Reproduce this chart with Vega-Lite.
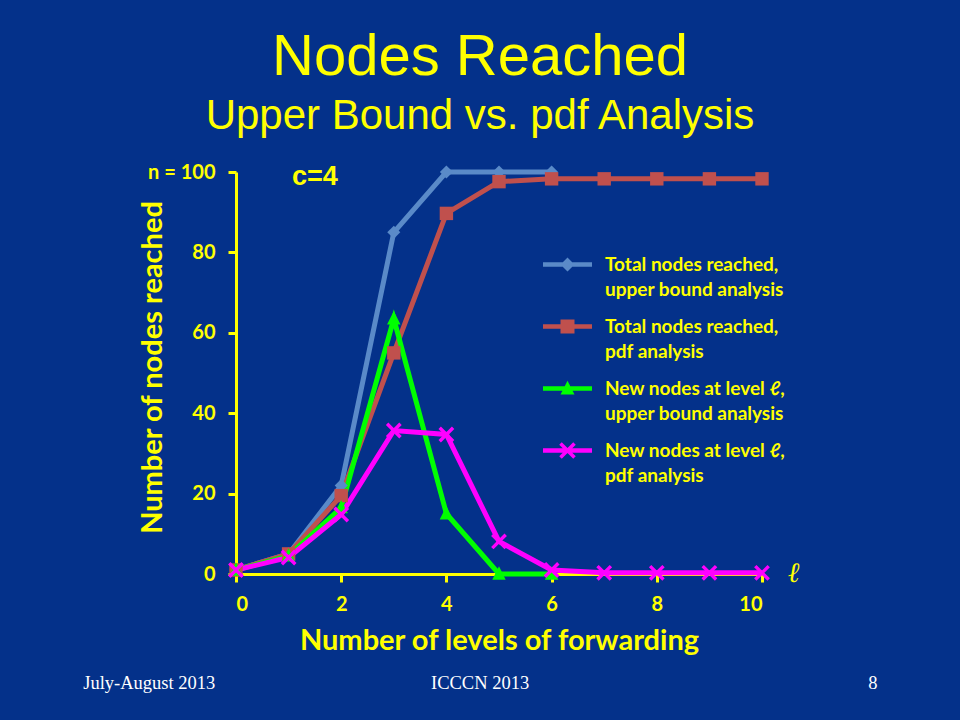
{
  "$schema": "https://vega.github.io/schema/vega-lite/v6.json",
  "width": 526,
  "height": 402,
  "autosize": {"type": "none"},
  "padding": {"left": 236, "top": 172, "right": 198, "bottom": 146},
  "background": "#04318a",
  "config": {"view": {"stroke": null}},
  "title": {
    "text": "Nodes Reached",
    "subtitle": "Upper Bound vs. pdf Analysis",
    "anchor": "middle",
    "dx": -19,
    "font": "Liberation Sans",
    "fontSize": 58,
    "fontWeight": "normal",
    "color": "#FFFF00",
    "subtitleFont": "Liberation Sans",
    "subtitleFontSize": 42,
    "subtitleColor": "#FFFF00",
    "subtitlePadding": 9,
    "offset": 25
  },
  "datasets": {
    "series": [
      {"level": 0, "series": "ub_total", "nodes": 1},
      {"level": 1, "series": "ub_total", "nodes": 5},
      {"level": 2, "series": "ub_total", "nodes": 22},
      {"level": 3, "series": "ub_total", "nodes": 85},
      {"level": 4, "series": "ub_total", "nodes": 100},
      {"level": 5, "series": "ub_total", "nodes": 100},
      {"level": 6, "series": "ub_total", "nodes": 100},
      {"level": 0, "series": "pdf_total", "nodes": 1},
      {"level": 1, "series": "pdf_total", "nodes": 5},
      {"level": 2, "series": "pdf_total", "nodes": 19.5},
      {"level": 3, "series": "pdf_total", "nodes": 55},
      {"level": 4, "series": "pdf_total", "nodes": 89.7},
      {"level": 5, "series": "pdf_total", "nodes": 97.6},
      {"level": 6, "series": "pdf_total", "nodes": 98.3},
      {"level": 7, "series": "pdf_total", "nodes": 98.3},
      {"level": 8, "series": "pdf_total", "nodes": 98.3},
      {"level": 9, "series": "pdf_total", "nodes": 98.3},
      {"level": 10, "series": "pdf_total", "nodes": 98.3},
      {"level": 0, "series": "ub_new", "nodes": 1},
      {"level": 1, "series": "ub_new", "nodes": 4.5},
      {"level": 2, "series": "ub_new", "nodes": 16.5},
      {"level": 3, "series": "ub_new", "nodes": 63.5},
      {"level": 4, "series": "ub_new", "nodes": 15},
      {"level": 5, "series": "ub_new", "nodes": 0},
      {"level": 6, "series": "ub_new", "nodes": 0},
      {"level": 0, "series": "pdf_new", "nodes": 1},
      {"level": 1, "series": "pdf_new", "nodes": 4.1},
      {"level": 2, "series": "pdf_new", "nodes": 14.8},
      {"level": 3, "series": "pdf_new", "nodes": 35.7},
      {"level": 4, "series": "pdf_new", "nodes": 34.7},
      {"level": 5, "series": "pdf_new", "nodes": 8.1},
      {"level": 6, "series": "pdf_new", "nodes": 1},
      {"level": 7, "series": "pdf_new", "nodes": 0.3},
      {"level": 8, "series": "pdf_new", "nodes": 0.3},
      {"level": 9, "series": "pdf_new", "nodes": 0.3},
      {"level": 10, "series": "pdf_new", "nodes": 0.3}
    ],
    "cnote": [{"x": 1.5, "y": 98.8, "text": "c=4"}],
    "ell": [{"x": 10.6, "y": 0, "text": "ℓ"}],
    "footer": [
      {"x": -1.65, "y": -27.1, "text": "July-August 2013"},
      {"x": 4.64, "y": -27.1, "text": "ICCCN 2013"},
      {"x": 12.11, "y": -27.1, "text": "8"}
    ]
  },
  "layer": [
    {
      "data": {"name": "series"},
      "mark": {"type": "line", "strokeWidth": 5},
      "encoding": {
        "x": {
          "field": "level", "type": "quantitative",
          "scale": {"domain": [0, 10], "nice": false, "zero": false},
          "axis": {
            "values": [0, 2, 4, 6, 8, 10],
            "grid": false,
            "title": "Number of levels of forwarding",
            "titleFont": "Lato", "titleFontSize": 29, "titleFontWeight": "bold", "titleColor": "#FFFF00",
            "titlePadding": 12,
            "labelFont": "Lato", "labelFontSize": 20, "labelFontWeight": "bold", "labelColor": "#FFFF00",
            "labelPadding": 12,
            "domainColor": "#FFFF00", "domainWidth": 3,
            "tickColor": "#FFFF00", "tickWidth": 3, "tickSize": 8
          }
        },
        "y": {
          "field": "nodes", "type": "quantitative",
          "scale": {"domain": [0, 100], "nice": false},
          "axis": {
            "values": [0, 20, 40, 60, 80, 100],
            "grid": false,
            "labelExpr": "datum.value == 100 ? 'n = 100' : datum.label",
            "title": "Number of nodes reached",
            "titleFont": "Lato", "titleFontSize": 29, "titleFontWeight": "bold", "titleColor": "#FFFF00",
            "titleX": -84, "titleY": 195, "titleBaseline": "middle", "titleAlign": "center", "titleAngle": -90,
            "labelFont": "Lato", "labelFontSize": 20, "labelFontWeight": "bold", "labelColor": "#FFFF00",
            "labelPadding": 13,
            "domainColor": "#FFFF00", "domainWidth": 3,
            "tickColor": "#FFFF00", "tickWidth": 3, "tickSize": 8
          }
        },
        "color": {
          "field": "series", "type": "nominal",
          "scale": {
            "domain": ["ub_total", "pdf_total", "ub_new", "pdf_new"],
            "range": ["#5A8AC8", "#C0504D", "#00FF00", "#FF00FF"]
          },
          "legend": {
            "orient": "none",
            "legendX": 322,
            "legendY": 83,
            "title": null,
            "padding": 0,
            "symbolSize": 196,
            "labelOffset": 28,
            "rowPadding": 17,
            "labelFont": "Lato", "labelFontSize": 19, "labelFontWeight": "bold", "labelColor": "#FFFF00",
            "labelLimit": 400,
            "labelExpr": "datum.value === 'ub_total' ? ['Total nodes reached,', 'upper bound analysis'] : datum.value === 'pdf_total' ? ['Total nodes reached,', 'pdf analysis'] : datum.value === 'ub_new' ? ['New nodes at level ℓ,', 'upper bound analysis'] : ['New nodes at level ℓ,', 'pdf analysis']",
            "encode": {
              "symbols": {
                "update": {
                  "shape": {"signal": "datum.value === 'ub_total' ? 'M-3.5,-0.32H3.5V0.32H-3.5Z M0,-1L1,0L0,1L-1,0Z' : datum.value === 'pdf_total' ? 'M-3.5,-0.32H3.5V0.32H-3.5Z M-1,-1H1V1H-1Z' : datum.value === 'ub_new' ? 'M-3.5,-0.32H3.5V0.32H-3.5Z M0,-1.1L1,0.85H-1Z' : 'M-3.5,-0.32H3.5V0.32H-3.5Z M-1.18,-0.82L-0.82,-1.18L1.18,0.82L0.82,1.18Z M0.82,-1.18L1.18,-0.82L-0.82,1.18L-1.18,0.82Z'"},
                  "fill": {"signal": "datum.value === 'ub_total' ? '#5A8AC8' : datum.value === 'pdf_total' ? '#C0504D' : datum.value === 'ub_new' ? '#00FF00' : '#FF00FF'"},
                  "fillOpacity": {"value": 1},
                  "opacity": {"value": 1},
                  "strokeWidth": {"value": 0},
                  "size": {"value": 196}
                }
              },
              "labels": {
                "update": {
                  "lineHeight": {"value": 25}
                }
              }
            }
          }
        }
      }
    },
    {
      "data": {"name": "series"},
      "transform": [{"filter": "datum.series === 'ub_total'"}],
      "mark": {"type": "point", "filled": true, "opacity": 1, "size": 170, "color": "#5A8AC8", "shape": "M0,-1L1,0L0,1L-1,0Z"},
      "encoding": {
        "x": {"field": "level", "type": "quantitative"},
        "y": {"field": "nodes", "type": "quantitative"}
      }
    },
    {
      "data": {"name": "series"},
      "transform": [{"filter": "datum.series === 'pdf_total'"}],
      "mark": {"type": "point", "filled": true, "opacity": 1, "size": 180, "color": "#C0504D", "shape": "M-1,-1H1V1H-1Z"},
      "encoding": {
        "x": {"field": "level", "type": "quantitative"},
        "y": {"field": "nodes", "type": "quantitative"}
      }
    },
    {
      "data": {"name": "series"},
      "transform": [{"filter": "datum.series === 'ub_new'"}],
      "mark": {"type": "point", "filled": true, "opacity": 1, "size": 180, "color": "#00FF00", "shape": "M0,-1.15L1,0.85H-1Z"},
      "encoding": {
        "x": {"field": "level", "type": "quantitative"},
        "y": {"field": "nodes", "type": "quantitative"}
      }
    },
    {
      "data": {"name": "series"},
      "transform": [{"filter": "datum.series === 'pdf_new'"}],
      "mark": {"type": "point", "filled": true, "opacity": 1, "size": 180, "color": "#FF00FF", "shape": "M-1.18,-0.82L-0.82,-1.18L1.18,0.82L0.82,1.18Z M0.82,-1.18L1.18,-0.82L-0.82,1.18L-1.18,0.82Z"},
      "encoding": {
        "x": {"field": "level", "type": "quantitative"},
        "y": {"field": "nodes", "type": "quantitative"}
      }
    },
    {
      "data": {"name": "cnote"},
      "mark": {"type": "text", "color": "#FFFF00", "baseline": "middle", "align": "center", "font": "Liberation Sans", "fontSize": 27, "fontWeight": "bold"},
      "encoding": {
        "x": {"field": "x", "type": "quantitative"},
        "y": {"field": "y", "type": "quantitative"},
        "text": {"field": "text"}
      }
    },
    {
      "data": {"name": "ell"},
      "mark": {"type": "text", "color": "#FFFF00", "baseline": "middle", "align": "center", "font": "DejaVu Serif", "fontSize": 28, "fontStyle": "italic"},
      "encoding": {
        "x": {"field": "x", "type": "quantitative"},
        "y": {"field": "y", "type": "quantitative"},
        "text": {"field": "text"}
      }
    },
    {
      "data": {"name": "footer"},
      "mark": {"type": "text", "color": "#FFFFFF", "font": "Liberation Serif", "fontSize": 18.5, "baseline": "middle", "align": "center"},
      "encoding": {
        "x": {"field": "x", "type": "quantitative"},
        "y": {"field": "y", "type": "quantitative"},
        "text": {"field": "text"}
      }
    }
  ]
}
